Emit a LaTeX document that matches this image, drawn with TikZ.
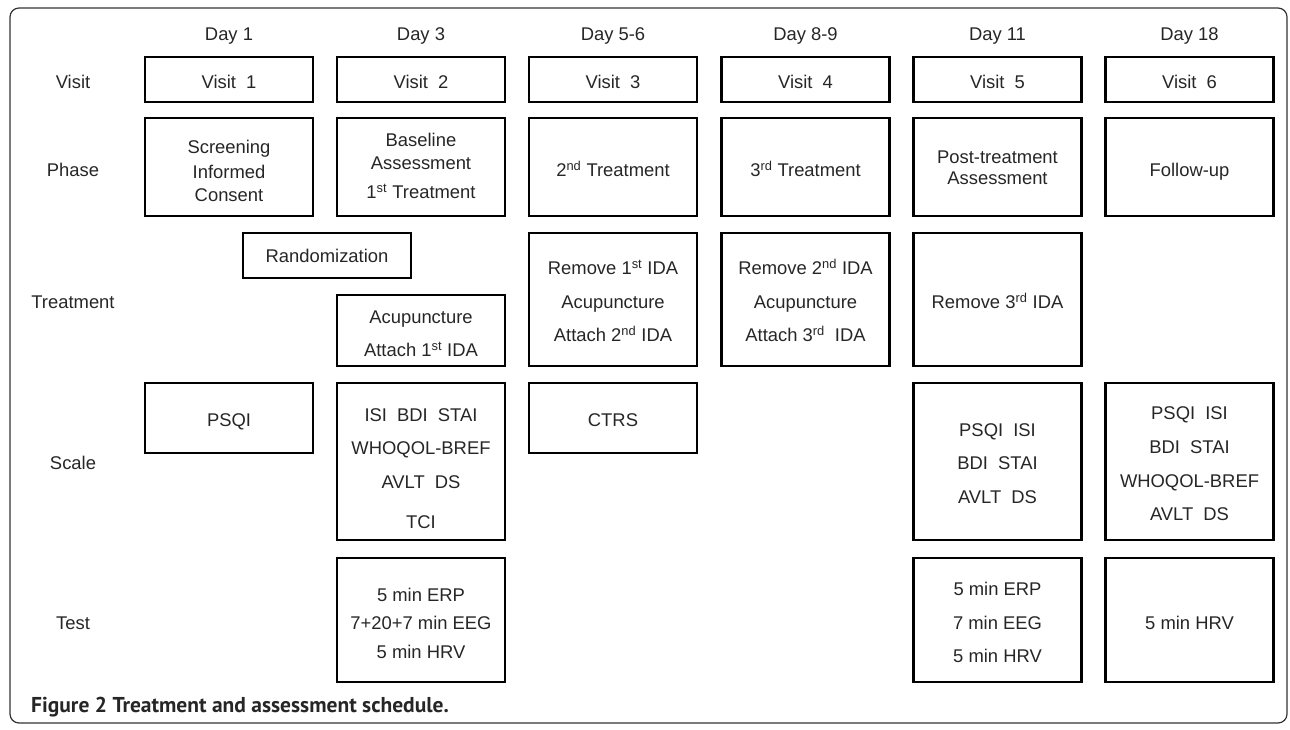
\documentclass[tikz,border=0pt]{standalone}
\usepackage{fontspec}
\setmainfont{Liberation Sans}
\newfontfamily\capfont{PT Sans}
\newcommand{\twosp}{\hspace*{0.55em}}
\begin{document}
\begin{tikzpicture}[x=1pt,y=-1pt,
  txt/.style={font=\fontsize{18.4}{22}\selectfont, text=black!85, inner sep=0pt,
              text height=13.2pt, text depth=0pt},
  box/.style={draw=black, line width=2.2pt, minimum width=168pt, inner sep=0pt}]
\useasboundingbox (0,0) rectangle (1290,730);
\draw[rounded corners=9pt, line width=1.2pt, draw=black!80] (10,8) rectangle (1287,723);

% day labels
\node[txt] (d1) at (229,34) {Day 1};
\node[txt] (d2) at (421,34) {Day 3};
\node[txt] (d3) at (613,34) {Day 5-6};
\node[txt] (d4) at (805.5,34) {Day 8-9};
\node[txt] (d5) at (997.5,34) {Day 11};
\node[txt] (d6) at (1189.5,34) {Day 18};

% row labels
\node[txt] (lvisit) at (73,81.5) {Visit};
\node[txt] (lphase) at (73,170) {Phase};
\node[txt] (ltreat) at (73,302) {Treatment};
\node[txt] (lscale) at (73,463) {Scale};
\node[txt] (ltest) at (73,623) {Test};

% visit row
\node[box, minimum height=45pt] (v1) at (229,79.5) {};
\node[box, minimum height=45pt] (v2) at (421,79.5) {};
\node[box, minimum height=45pt] (v3) at (613,79.5) {};
\node[box, minimum height=45pt] (v4) at (805.5,79.5) {};
\node[box, minimum height=45pt] (v5) at (997.5,79.5) {};
\node[box, minimum height=45pt] (v6) at (1189.5,79.5) {};
\node[txt] (v1t) at (229,81.5) {Visit\twosp 1};
\node[txt] (v2t) at (421,81.5) {Visit\twosp 2};
\node[txt] (v3t) at (613,81.5) {Visit\twosp 3};
\node[txt] (v4t) at (805.5,81.5) {Visit\twosp 4};
\node[txt] (v5t) at (997.5,81.5) {Visit\twosp 5};
\node[txt] (v6t) at (1189.5,81.5) {Visit\twosp 6};

% phase row
\node[box, minimum height=98pt] (p1) at (229,167) {};
\node[box, minimum height=98pt] (p2) at (421,167) {};
\node[box, minimum height=98pt] (p3) at (613,167) {};
\node[box, minimum height=98pt] (p4) at (805.5,167) {};
\node[box, minimum height=98pt] (p5) at (997.5,167) {};
\node[box, minimum height=98pt] (p6) at (1189.5,167) {};
\node[txt] (p1a) at (229,147) {Screening};
\node[txt] (p1b) at (229,172) {Informed};
\node[txt] (p1c) at (229,195) {Consent};
\node[txt] (p2a) at (421,140) {Baseline};
\node[txt] (p2b) at (421,163) {Assessment};
\node[txt] (p2c) at (421,192) {1\textsuperscript{st} Treatment};
\node[txt] (p3t) at (613,170) {2\textsuperscript{nd} Treatment};
\node[txt] (p4t) at (805.5,170) {3\textsuperscript{rd} Treatment};
\node[txt] (p5a) at (997.5,157) {Post-treatment};
\node[txt] (p5b) at (997.5,178) {Assessment};
\node[txt] (p6t) at (1189.5,170) {Follow-up};

% treatment row
\node[box, minimum height=45pt] (rand) at (327,255.5) {};
\node[txt] (randt) at (327,256) {Randomization};
\node[box, minimum height=71pt] (t2) at (421,330.5) {};
\node[txt] (t2a) at (421,317) {Acupuncture};
\node[txt] (t2b) at (421,350) {Attach 1\textsuperscript{st} IDA};
\node[box, minimum height=133pt] (t3) at (613,299.5) {};
\node[txt] (t3a) at (613,268) {Remove 1\textsuperscript{st} IDA};
\node[txt] (t3b) at (613,302) {Acupuncture};
\node[txt] (t3c) at (613,335) {Attach 2\textsuperscript{nd} IDA};
\node[box, minimum height=133pt] (t4) at (805.5,299.5) {};
\node[txt] (t4a) at (805.5,268) {Remove 2\textsuperscript{nd} IDA};
\node[txt] (t4b) at (805.5,302) {Acupuncture};
\node[txt] (t4c) at (805.5,335) {Attach 3\textsuperscript{rd}\twosp IDA};
\node[box, minimum height=133pt] (t5) at (997.5,299.5) {};
\node[txt] (t5t) at (997.5,302) {Remove 3\textsuperscript{rd} IDA};

% scale row
\node[box, minimum height=70pt] (s1) at (229,418) {};
\node[txt] (s1t) at (229,420) {PSQI};
\node[box, minimum height=157pt] (s2) at (421,461.5) {};
\node[txt] (s2a) at (421,415) {ISI\twosp BDI\twosp STAI};
\node[txt] (s2b) at (421,448) {WHOQOL-BREF};
\node[txt] (s2c) at (421,482) {AVLT\twosp DS};
\node[txt] (s2d) at (421,522) {TCI};
\node[box, minimum height=70pt] (s3) at (613,418) {};
\node[txt] (s3t) at (613,420) {CTRS};
\node[box, minimum height=157pt] (s5) at (997.5,461.5) {};
\node[txt] (s5a) at (997.5,430) {PSQI\twosp ISI};
\node[txt] (s5b) at (997.5,463) {BDI\twosp STAI};
\node[txt] (s5c) at (997.5,497) {AVLT\twosp DS};
\node[box, minimum height=157pt] (s6) at (1189.5,461.5) {};
\node[txt] (s6a) at (1189.5,413) {PSQI\twosp ISI};
\node[txt] (s6b) at (1189.5,447) {BDI\twosp STAI};
\node[txt] (s6c) at (1189.5,481) {WHOQOL-BREF};
\node[txt] (s6d) at (1189.5,514) {AVLT\twosp DS};

% test row
\node[box, minimum height=124pt] (e2) at (421,620) {};
\node[txt] (e2a) at (421,595) {5 min ERP};
\node[txt] (e2b) at (421,623) {7+20+7 min EEG};
\node[txt] (e2c) at (421,652) {5 min HRV};
\node[box, minimum height=124pt] (e5) at (997.5,620) {};
\node[txt] (e5a) at (997.5,589) {5 min ERP};
\node[txt] (e5b) at (997.5,623) {7 min EEG};
\node[txt] (e5c) at (997.5,656) {5 min HRV};
\node[box, minimum height=124pt] (e6) at (1189.5,620) {};
\node[txt] (e6t) at (1189.5,623) {5 min HRV};

% caption
\node[anchor=west, inner sep=0pt, text=black!85, text height=14pt, text depth=0pt,
      font=\capfont\bfseries\fontsize{21.5}{24}\selectfont] (cap) at (31,705) {Figure 2 Treatment and assessment schedule.};
\end{tikzpicture}
\end{document}
